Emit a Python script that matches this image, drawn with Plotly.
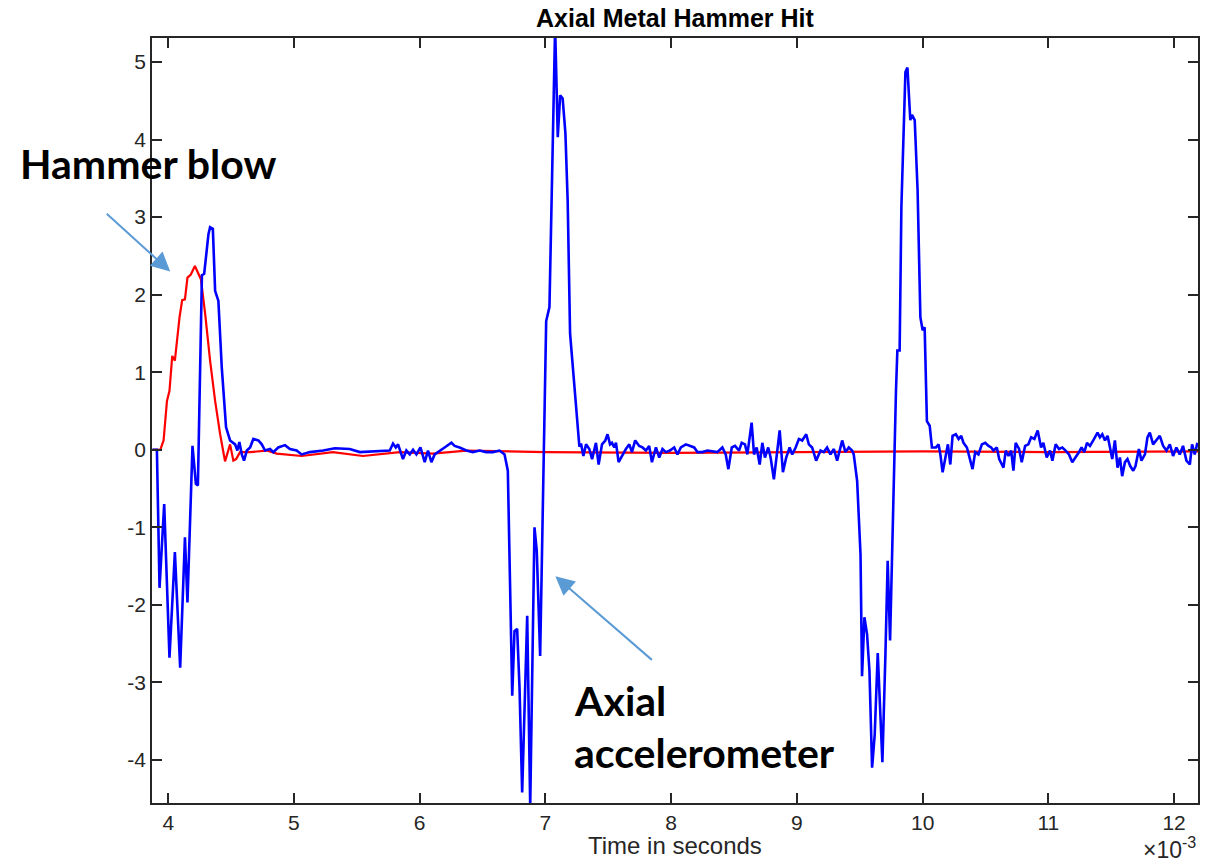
import plotly.graph_objects as go

# Axial accelerometer response (time in seconds, acceleration)
accel_t_ms = [
    3.875, 3.910, 3.931, 3.968, 4.010, 4.053, 4.095, 4.133, 4.153, 4.193,
    4.220, 4.236, 4.268, 4.286, 4.320, 4.333, 4.355, 4.373, 4.399, 4.426,
    4.460, 4.492, 4.532, 4.550, 4.566, 4.585, 4.603, 4.625, 4.651, 4.677,
    4.717, 4.744, 4.770, 4.810, 4.836, 4.875, 4.929, 4.968, 5.021, 5.061,
    5.127, 5.233, 5.325, 5.444, 5.524, 5.656, 5.762, 5.788, 5.810, 5.828,
    5.867, 5.894, 5.921, 5.947, 5.974, 6.006, 6.040, 6.066, 6.093, 6.119,
    6.159, 6.198, 6.252, 6.278, 6.317, 6.371, 6.423, 6.476, 6.529, 6.582,
    6.635, 6.675, 6.701, 6.728, 6.736, 6.754, 6.775, 6.794, 6.815, 6.855,
    6.879, 6.913, 6.931, 6.958, 7.006, 7.032, 7.045, 7.064, 7.077, 7.090,
    7.098, 7.117, 7.137, 7.159, 7.177, 7.196, 7.230, 7.256, 7.270, 7.283,
    7.302, 7.323, 7.349, 7.371, 7.389, 7.402, 7.423, 7.450, 7.476, 7.494,
    7.514, 7.529, 7.548, 7.561, 7.582, 7.609, 7.640, 7.667, 7.688, 7.714,
    7.746, 7.772, 7.799, 7.825, 7.847, 7.879, 7.905, 7.931, 7.958, 7.990,
    8.024, 8.050, 8.077, 8.117, 8.156, 8.183, 8.209, 8.248, 8.288, 8.328,
    8.367, 8.407, 8.434, 8.455, 8.482, 8.508, 8.540, 8.561, 8.587, 8.606,
    8.640, 8.659, 8.680, 8.704, 8.725, 8.746, 8.772, 8.791, 8.817, 8.844,
    8.863, 8.889, 8.915, 8.942, 8.963, 8.990, 9.016, 9.042, 9.074, 9.095,
    9.121, 9.153, 9.188, 9.214, 9.240, 9.267, 9.294, 9.320, 9.360, 9.386,
    9.413, 9.439, 9.452, 9.479, 9.506, 9.518, 9.537, 9.558, 9.577, 9.598,
    9.619, 9.643, 9.664, 9.680, 9.704, 9.722, 9.741, 9.762, 9.788, 9.799,
    9.817, 9.831, 9.852, 9.863, 9.879, 9.889, 9.902, 9.915, 9.937, 9.960,
    9.982, 10.000, 10.016, 10.034, 10.056, 10.074, 10.106, 10.127, 10.141, 10.159,
    10.180, 10.201, 10.220, 10.238, 10.264, 10.286, 10.307, 10.325, 10.352, 10.371,
    10.397, 10.418, 10.444, 10.471, 10.498, 10.524, 10.545, 10.563, 10.590, 10.609,
    10.643, 10.661, 10.683, 10.704, 10.722, 10.740, 10.767, 10.788, 10.815, 10.841,
    10.863, 10.889, 10.915, 10.942, 10.960, 10.987, 11.013, 11.032, 11.058, 11.085,
    11.111, 11.137, 11.164, 11.190, 11.217, 11.244, 11.264, 11.286, 11.307, 11.331,
    11.357, 11.391, 11.410, 11.429, 11.450, 11.471, 11.490, 11.508, 11.529, 11.550,
    11.569, 11.587, 11.609, 11.629, 11.651, 11.675, 11.693, 11.720, 11.740, 11.768,
    11.788, 11.807, 11.833, 11.860, 11.886, 11.913, 11.939, 11.966, 11.992, 12.018,
    12.045, 12.071, 12.098, 12.125, 12.143, 12.164, 12.185,
]
accel_values = [
    0.00, 0.00, -1.78, -0.70, -2.68, -1.32, -2.81, -1.13, -1.97, 0.05,
    -0.44, -0.46, 2.25, 2.27, 2.78, 2.87, 2.85, 2.05, 1.92, 1.06,
    0.29, 0.12, 0.07, -0.01, 0.10, -0.06, -0.14, -0.01, 0.03, 0.14,
    0.12, 0.07, -0.01, 0.01, -0.03, 0.03, 0.06, 0.01, -0.01, -0.06,
    -0.03, -0.01, 0.02, 0.01, -0.03, -0.02, -0.01, 0.08, 0.03, 0.07,
    -0.12, -0.01, -0.06, 0.00, -0.06, 0.03, -0.16, -0.01, -0.16, -0.06,
    -0.01, 0.03, 0.09, 0.05, 0.03, -0.01, -0.03, -0.01, -0.03, -0.03,
    -0.01, -0.06, -0.27, -2.20, -3.17, -2.34, -2.31, -3.07, -4.42, -2.14,
    -4.60, -1.00, -1.30, -2.66, 1.66, 1.84, 2.79, 4.50, 5.45, 4.59,
    4.03, 4.57, 4.53, 4.08, 3.21, 1.50, 0.85, 0.42, 0.04, 0.08,
    -0.08, 0.07, 0.01, -0.12, 0.03, 0.09, -0.19, 0.07, 0.12, 0.20,
    0.07, 0.09, 0.03, 0.09, -0.16, -0.08, 0.01, 0.07, -0.03, 0.12,
    0.05, 0.03, -0.01, 0.05, -0.16, 0.03, -0.10, 0.01, -0.03, -0.01,
    0.03, -0.06, 0.03, 0.07, 0.05, 0.03, -0.03, -0.03, -0.01, -0.02,
    -0.03, 0.03, -0.06, -0.25, 0.03, 0.05, -0.01, 0.09, 0.07, -0.06,
    0.35, -0.06, 0.03, -0.19, 0.09, -0.10, 0.03, -0.10, -0.38, -0.01,
    0.25, -0.29, -0.10, 0.03, -0.06, 0.03, 0.14, 0.12, 0.20, 0.07,
    0.03, -0.14, -0.01, -0.03, 0.03, -0.06, 0.01, -0.14, 0.12, -0.03,
    0.03, -0.01, -0.06, -0.40, -1.35, -2.92, -2.16, -2.38, -2.85, -4.10,
    -3.67, -2.62, -3.50, -4.03, -2.64, -1.43, -2.46, -0.92, 0.76, 1.28,
    1.28, 3.13, 4.20, 4.87, 4.93, 4.59, 4.25, 4.32, 4.25, 3.34,
    1.71, 1.54, 1.58, 0.37, 0.31, 0.03, 0.03, 0.07, -0.06, -0.29,
    -0.12, 0.07, -0.19, 0.18, 0.20, 0.14, 0.18, 0.09, 0.03, -0.10,
    -0.25, -0.03, -0.06, 0.07, 0.09, 0.05, 0.03, -0.01, 0.03, -0.12,
    -0.23, -0.01, -0.08, -0.01, -0.27, 0.09, 0.01, -0.16, 0.05, 0.07,
    0.16, 0.14, 0.25, 0.03, 0.09, -0.10, -0.01, -0.14, 0.07, 0.01,
    0.03, -0.01, -0.06, -0.16, -0.10, -0.03, 0.03, -0.03, 0.09, 0.05,
    0.12, 0.22, 0.16, 0.20, 0.12, 0.18, 0.03, -0.12, 0.12, -0.23,
    -0.10, -0.34, -0.16, -0.12, -0.21, -0.27, -0.21, 0.01, -0.14, -0.06,
    0.16, 0.22, 0.07, 0.12, 0.18, 0.05, -0.01, 0.07, -0.08, 0.03,
    -0.06, 0.05, -0.14, -0.19, 0.07, -0.06, 0.09,
]

# Hammer force signal
hammer_t_ms = [
    3.875, 3.937, 3.963, 3.990, 4.010, 4.032, 4.053, 4.090, 4.111, 4.133,
    4.153, 4.180, 4.212, 4.240, 4.260, 4.294, 4.333, 4.373, 4.413, 4.452,
    4.492, 4.518, 4.540, 4.571, 4.651, 4.783, 4.863, 5.061, 5.310, 5.548,
    5.841, 6.103, 6.371, 7.000, 8.000, 9.000, 10.000, 11.000, 12.190,
]
hammer_values = [
    0.00, 0.00, 0.12, 0.63, 0.76, 1.21, 1.15, 1.71, 1.93, 1.94,
    2.22, 2.26, 2.37, 2.27, 2.20, 1.75, 1.15, 0.63, 0.20, -0.15,
    0.07, -0.14, -0.12, -0.03, -0.03, -0.01, -0.05, -0.08, -0.03, -0.08,
    -0.03, -0.05, -0.01, -0.03, -0.04, -0.03, -0.02, -0.03, -0.02,
]

x_tick_ms = [4, 5, 6, 7, 8, 9, 10, 11, 12]
y_ticks = [-4, -3, -2, -1, 0, 1, 2, 3, 4, 5]

# time axis is in seconds; ticks are labelled in units of 1e-3
accel_t = [v * 1e-3 for v in accel_t_ms]
hammer_t = [v * 1e-3 for v in hammer_t_ms]
x_tickvals = [v * 1e-3 for v in x_tick_ms]

AX_COLOR = "#262626"
SANS = "Liberation Sans, Arial, sans-serif"
TICK_FONT = dict(family=SANS, size=21, color=AX_COLOR)
NOTE_FONT = dict(family="Lato, 'Open Sans', sans-serif", size=41, color="black")
ARROW_COLOR = "#5B9BD5"

fig = go.Figure()
fig.add_trace(go.Scatter(x=hammer_t, y=hammer_values, mode="lines",
                         line=dict(color="#FF0000", width=2.2), name="Hammer"))
fig.add_trace(go.Scatter(x=accel_t, y=accel_values, mode="lines",
                         line=dict(color="#0000FF", width=2.6), name="Accelerometer"))

axis_common = dict(showline=True, linecolor=AX_COLOR, linewidth=1.5, mirror="ticks",
                   ticks="inside", ticklen=10, tickwidth=1.5, tickcolor=AX_COLOR,
                   showgrid=False, zeroline=False, tickfont=TICK_FONT)

fig.update_xaxes(range=[3.871e-3, 12.19e-3], tickvals=x_tickvals,
                 ticktext=[str(v) for v in x_tick_ms], **axis_common)
fig.update_yaxes(range=[-4.555, 5.31], tickvals=y_ticks,
                 ticktext=[str(v) for v in y_ticks], **axis_common)

annotations = [
    dict(text="<b>Axial Metal Hammer Hit</b>", xref="paper", yref="paper",
         x=0.5, y=1, xanchor="center", yanchor="bottom", yshift=4, showarrow=False,
         font=dict(family=SANS, size=25, color="black")),
    dict(text="Time in seconds", xref="paper", yref="paper", x=0.5, y=-0.0555,
         xanchor="center", yanchor="middle", showarrow=False,
         font=dict(family=SANS, size=24, color=AX_COLOR)),
    dict(text="×10<sup>-3</sup>", xref="paper", yref="paper", x=1.0, y=-0.081,
         xanchor="right", yanchor="bottom", showarrow=False,
         font=dict(family=SANS, size=23, color=AX_COLOR)),
    dict(text="<b>Hammer blow</b>", xref="paper", yref="paper", x=-0.1279, y=0.8366,
         xanchor="left", yanchor="middle", showarrow=False, font=NOTE_FONT),
    dict(text="<b>Axial</b>", xref="paper", yref="paper", x=0.4017, y=0.1346,
         xanchor="left", yanchor="middle", showarrow=False, font=NOTE_FONT),
    dict(text="<b>accelerometer</b>", xref="paper", yref="paper", x=0.4017, y=0.0654,
         xanchor="left", yanchor="middle", showarrow=False, font=NOTE_FONT),
    # arrows pointing at the two traces
    dict(text="", x=4.016e-3, y=2.30, xref="x", yref="y", ax=-65, ay=-59,
         showarrow=True, arrowhead=2, arrowsize=1.9, arrowwidth=2, arrowcolor=ARROW_COLOR),
    dict(text="", x=7.079e-3, y=-1.63, xref="x", yref="y", ax=98, ay=85,
         showarrow=True, arrowhead=2, arrowsize=1.9, arrowwidth=2, arrowcolor=ARROW_COLOR),
]

fig.update_layout(
    width=1207, height=863,
    margin=dict(l=152, r=7, t=38, b=60),
    paper_bgcolor="white", plot_bgcolor="white",
    showlegend=False,
    annotations=annotations,
)

fig.write_html("out.html")
